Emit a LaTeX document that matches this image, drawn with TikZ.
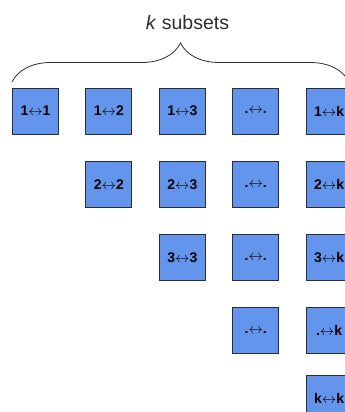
\documentclass[tikz,border=0pt]{standalone}
\usepackage{fontspec}
\setmainfont{Liberation Sans}
\usepackage{xcolor}
\usetikzlibrary{positioning,decorations.pathreplacing}

\definecolor{pairblue}{RGB}{100,149,237}
\definecolor{edgegray}{RGB}{45,45,45}

\begin{document}
\begin{tikzpicture}[x=1pt, y=1pt,
    pair/.style={draw=edgegray, line width=0.9pt, fill=pairblue, inner sep=0pt,
                 minimum size=46pt, font=\fontsize{14}{16}\selectfont\bfseries},
    node distance=26pt and 26.5pt]
    \useasboundingbox (0,0) rectangle (345,-412);
    % first row: one pair for each subset
    \node[pair] (p11) at (35.5,-111) {1$\leftrightarrow$1};
    \node[pair, right=of p11] (p12) {1$\leftrightarrow$2};
    \node[pair, right=of p12] (p13) {1$\leftrightarrow$3};
    \node[pair, right=of p13] (p1d) {.$\leftrightarrow$.};
    \node[pair, right=of p1d] (p1k) {1$\leftrightarrow$k};
    % the triangle below it
    \node[pair, below=27pt of p12] (p22) {2$\leftrightarrow$2};
    \node[pair, below=27pt of p13] (p23) {2$\leftrightarrow$3};
    \node[pair, below=27pt of p1d] (p2d) {.$\leftrightarrow$.};
    \node[pair, below=27pt of p1k] (p2k) {2$\leftrightarrow$k};
    \node[pair, below=of p23] (p33) {3$\leftrightarrow$3};
    \node[pair, below=of p2d] (p3d) {.$\leftrightarrow$.};
    \node[pair, below=of p2k] (p3k) {3$\leftrightarrow$k};
    \node[pair, below=of p3d] (p4d) {.$\leftrightarrow$.};
    \node[pair, below=of p3k] (p4k) {.$\leftrightarrow$k};
    \node[pair, below=21pt of p4k] (pkk) {k$\leftrightarrow$k};
    % brace over the first row
    \coordinate (bl) at (12,-82);
    \coordinate (br) at (349,-82);
    \draw[edgegray, line width=0.8pt, decorate, decoration={brace, amplitude=39pt}]
      (bl) -- (br) node[midway, above=49pt, xshift=7pt, font=\fontsize{19.5}{21}\selectfont] (lbl)
      {\textit{k} subsets};
\end{tikzpicture}
\end{document}
